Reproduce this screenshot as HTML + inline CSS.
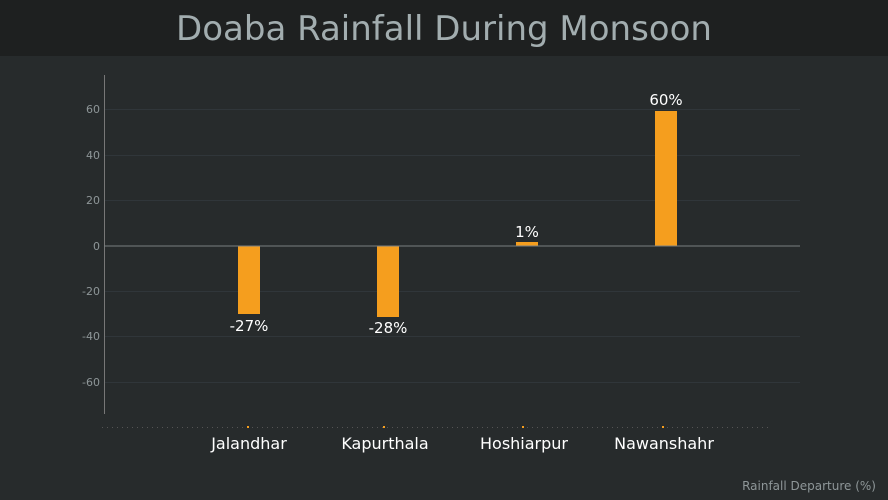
<!DOCTYPE html><html><head><style>body{margin:0;width:888px;height:500px;background:#272b2c;overflow:hidden;font-family:"DejaVu Sans",sans-serif}</style></head><body>
<svg width="888" height="500" xmlns="http://www.w3.org/2000/svg" style="position:absolute;left:0;top:0">
<rect width="888" height="500" fill="#272b2c"/>
<rect width="888" height="56" fill="#1e2020"/>
<text x="444" y="40" text-anchor="middle" font-size="34" fill="#a2adaf" font-family="DejaVu Sans">Doaba Rainfall During Monsoon</text>
<g stroke="#30363a" stroke-width="1">
<line x1="104" x2="800" y1="109.5" y2="109.5"/><line x1="104" x2="800" y1="155.5" y2="155.5"/><line x1="104" x2="800" y1="200.5" y2="200.5"/>
<line x1="104" x2="800" y1="291.5" y2="291.5"/><line x1="104" x2="800" y1="336.5" y2="336.5"/><line x1="104" x2="800" y1="382.5" y2="382.5"/>
</g>
<line x1="104.5" x2="104.5" y1="75" y2="414" stroke="#777"/>
<g font-size="11" fill="#8e9698" text-anchor="end">
<text x="100" y="113">60</text><text x="100" y="159">40</text><text x="100" y="204">20</text><text x="100" y="250">0</text>
<text x="100" y="295">-20</text><text x="100" y="340">-40</text><text x="100" y="386">-60</text>
</g>
<g fill="#f59e1e">
<rect x="238" y="246" width="22" height="68"/><rect x="377" y="246" width="22" height="71"/>
<rect x="516" y="242" width="22" height="4"/><rect x="655" y="111" width="22" height="135"/>
</g>
<line x1="104" x2="800" y1="246" y2="246" stroke="#7a7f80"/>
<g font-size="15" fill="#fff" text-anchor="middle">
<text x="249" y="331">-27%</text><text x="388" y="333">-28%</text><text x="527" y="237">1%</text><text x="666" y="105">60%</text>
</g>
<line x1="102" x2="768" y1="427.5" y2="427.5" stroke="#555" stroke-dasharray="1,4"/>
<g fill="#f59e1e"><rect x="247" y="426" width="2" height="2"/><rect x="383" y="426" width="2" height="2"/><rect x="522" y="426" width="2" height="2"/><rect x="662" y="426" width="2" height="2"/></g>
<g font-size="16" fill="#fff" text-anchor="middle">
<text x="249" y="449">Jalandhar</text><text x="385" y="449">Kapurthala</text><text x="524" y="449">Hoshiarpur</text><text x="664" y="449">Nawanshahr</text>
</g>
<text x="876" y="490" text-anchor="end" font-size="12" fill="#8e9698">Rainfall Departure (%)</text>
</svg></body></html>
